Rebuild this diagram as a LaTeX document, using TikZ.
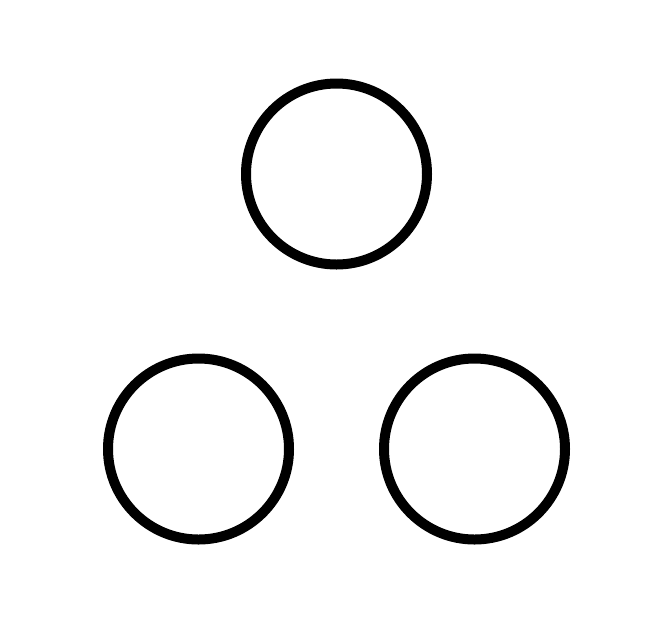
\documentclass[tikz,border=0pt]{standalone}
\usetikzlibrary{positioning}

\begin{document}
\begin{tikzpicture}[
    % Размеры дерева
    level distance=5.5cm,    % Расстояние по вертикали между уровнями
    sibling distance=5.52cm, % Расстояние по горизонтали
    % Стиль узлов: кружок, толстая черная граница, без рёбер
    every node/.style={circle, draw, line width=0.2cm, minimum size=3.62cm, inner sep=0pt},
    edge from parent/.style={draw=none}
]
    % Поля картинки
    \useasboundingbox (0,0) rectangle (13.4,-12.72);

    % Корень
    \node (top) at (6.73,-3.48) {}
        % Левая ветка
        child { node (left) {} }
        % Правая ветка
        child { node (right) {} };

\end{tikzpicture}
\end{document}
